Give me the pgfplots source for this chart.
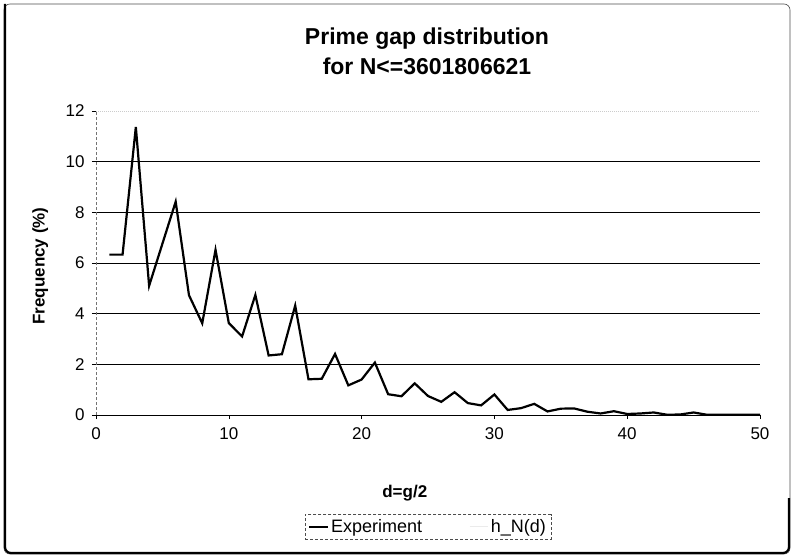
\documentclass[border=0pt]{standalone}
\usepackage{pgfplots}
\pgfplotsset{compat=1.18}
\usepackage{fontspec}
\setmainfont{Liberation Sans}
\begin{document}
\begin{tikzpicture}
% page frame 795 x 558
\path[use as bounding box] (0pt,0pt) rectangle (795pt,558pt);
\draw[line width=0.6pt, rounded corners=6pt, black!70] (4pt,4pt) rectangle (790pt,554pt);
\draw[line width=2.2pt, rounded corners=6pt] (5pt,554pt) -- (5pt,5pt) -- (789pt,5pt) -- (789pt,60pt);
\begin{axis}[
  at={(96pt,143pt)}, anchor=south west,
  scale only axis, width=664pt, height=304pt,
  xmin=0, xmax=50, ymin=0, ymax=12,
  xtick={0,10,...,50},
  ytick={0,2,...,10},
  extra y ticks={12},
  extra y tick style={grid style={black!20, densely dotted}},
  ymajorgrids,
  grid style={black, line width=1pt},
  axis lines*=left,
  x axis line style={black, line width=1pt},
  y axis line style={black!55, densely dashed, line width=0.6pt},
  tick style={black, line width=0.6pt},
  major tick length=4pt,
  tick align=outside,
  /pgf/number format/assume math mode=true,
  tick label style={font=\fontsize{17}{20}\selectfont},
  xticklabel style={yshift=-5pt},
  yticklabel style={xshift=-4pt},
  title={Prime gap distribution\\for N<=3601806621},
  title style={font=\bfseries\fontsize{23}{30}\selectfont, align=center, at={(axis description cs:0.4985,1.178)}, anchor=center},
  xlabel={d=g/2},
  xlabel style={font=\bfseries\fontsize{17}{20}\selectfont, at={(axis description cs:0.465,-0.257)}, anchor=center},
  ylabel={Frequency (\%)},
  ylabel style={font=\bfseries\fontsize{17}{20}\selectfont, at={(axis description cs:-0.084,0.49)}, anchor=center},
  legend columns=2,
  legend style={at={(axis description cs:0.5,-0.368)}, anchor=center,
    draw=black!70, densely dashed, line width=0.6pt,
    font=\fontsize{18}{21}\selectfont, inner xsep=3pt, inner ysep=3pt,
    /tikz/every even column/.append style={column sep=45pt}},
  legend cell align=left,
  legend image post style={xscale=1.1},
]
\addplot[black, line width=2.2pt, solid] coordinates {
(1,6.33) (2,6.33) (3,11.37) (4,5.10) (5,6.76) (6,8.42) (7,4.73) (8,3.62)
(9,6.52) (10,3.63) (11,3.10) (12,4.74) (13,2.35) (14,2.40) (15,4.32)
(16,1.41) (17,1.43) (18,2.41) (19,1.17) (20,1.40) (21,2.07) (22,0.82)
(23,0.74) (24,1.25) (25,0.75) (26,0.52) (27,0.90) (28,0.47) (29,0.38)
(30,0.81) (31,0.20) (32,0.27) (33,0.44) (34,0.14) (35,0.25) (36,0.26)
(37,0.13) (38,0.06) (39,0.15) (40,0.04) (41,0.06) (42,0.10) (43,0.01)
(44,0.02) (45,0.10) (46,0.01) (47,0.01) (48,0.01) (49,0.01) (50,0.01)
};
\addlegendentry{Experiment}
\addlegendimage{black!8, line width=1pt, solid}
\addlegendentry{h\_N(d)}
\end{axis}
\end{tikzpicture}
\end{document}
